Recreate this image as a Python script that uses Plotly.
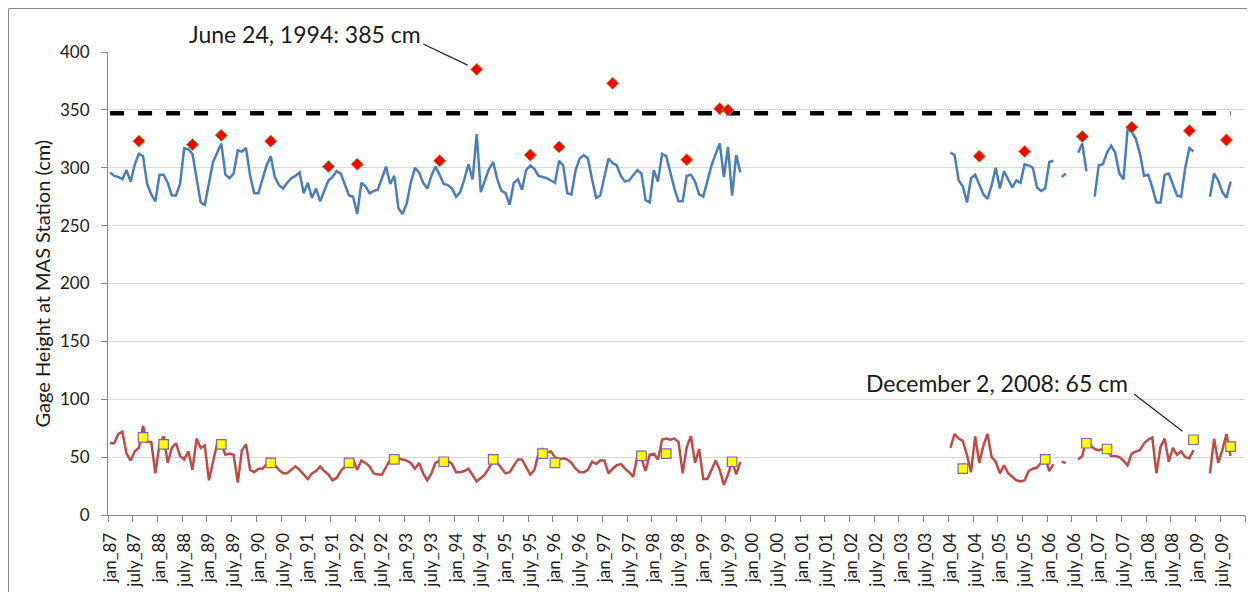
import plotly.graph_objects as go

# ---------------- data (monthly, Jan 1987 .. Dec 2009; index 0 = Jan 1987) ----------------
n_months = 276
years = list(range(1987, 2010))
tick_months = list(range(0, 276, 6))
tick_labels = []
for y in years:
    yy = str(y)[2:]
    tick_labels += ["jan_" + yy, "july_" + yy]

# monthly gage height, upper series (cm) Jan 1987 .. Oct 1999
blue_1987_1999 = [
    296, 293, 292, 290, 298, 288, 303, 312, 310, 286,
    277, 271, 294, 294, 287, 276, 276, 286, 317, 316,
    312, 290, 270, 268, 286, 305, 313, 321, 294, 291,
    295, 315, 314, 317, 293, 278, 278, 290, 302, 310,
    292, 285, 282, 287, 291, 293, 296, 278, 287, 274,
    282, 271, 280, 289, 292, 297, 295, 286, 276, 275,
    260, 287, 284, 278, 280, 281, 292, 301, 286, 293,
    265, 260, 269, 287, 300, 296, 287, 282, 293, 301,
    294, 286, 285, 282, 275, 279, 290, 303, 290, 329,
    279, 290, 299, 305, 290, 280, 278, 268, 287, 290,
    281, 298, 302, 299, 293, 292, 291, 289, 287, 306,
    302, 278, 277, 298, 308, 311, 308, 290, 274, 276,
    292, 308, 304, 302, 293, 288, 289, 294, 298, 295,
    272, 270, 298, 288, 312, 310, 296, 282, 271, 271,
    293, 294, 288, 277, 275, 288, 302, 312, 321, 292,
    318, 276, 311, 296,
]
# upper series Jan 2004 .. Sep 2009
blue_2004_2009 = [
    313, 311, 289, 284, 270, 291, 294, 286, 277, 273,
    285, 300, 282, 297, 290, 283, 289, 287, 303, 302,
    300, 283, 280, 282, 305, 306, None, 292, 295, None,
    None, 313, 321, 297, None, 275, 302, 303, 313, 319,
    313, 295, 290, 333, 331, 325, 312, 293, 294, 283,
    270, 270, 294, 295, 286, 276, 275, 300, 317, 314,
    None, None, None, 275, 295, 289, 279, 274, 288,
]
# monthly gage height, lower series (cm) Jan 1987 .. Oct 1999
red_1987_1999 = [
    62, 62, 70, 72, 53, 47, 55, 58, 77, 63,
    63, 36, 61, 68, 45, 58, 62, 51, 48, 55,
    39, 66, 58, 60, 30, 45, 62, 61, 52, 53,
    52, 28, 56, 61, 39, 37, 40, 40, 44, 45,
    43, 39, 36, 36, 39, 42, 39, 35, 31, 36,
    38, 42, 38, 35, 30, 32, 38, 42, 45, 48,
    39, 47, 45, 42, 36, 35, 35, 42, 48, 49,
    49, 48, 47, 45, 40, 45, 36, 30, 36, 45,
    47, 48, 47, 44, 37, 37, 38, 40, 35, 29,
    32, 35, 41, 47, 45, 40, 36, 37, 42, 48,
    48, 41, 35, 39, 53, 57, 54, 55, 50, 48,
    49, 48, 45, 40, 37, 37, 39, 46, 44, 47,
    47, 36, 40, 43, 44, 40, 37, 33, 51, 49,
    38, 52, 53, 48, 65, 66, 65, 66, 63, 36,
    59, 68, 45, 57, 31, 31, 39, 47, 39, 26,
    35, 46, 35, 46,
]
# lower series Jan 2004 .. Sep 2009
red_2004_2009 = [
    58, 70, 66, 64, 52, 37, 68, 45, 60, 70,
    50, 46, 36, 43, 36, 33, 30, 29, 30, 38,
    40, 41, 45, 49, 38, 44, None, 46, 45, None,
    None, 48, 51, 66, 60, 57, 56, 57, 57, 51,
    51, 50, 47, 43, 53, 55, 56, 62, 65, 67,
    36, 59, 66, 46, 58, 52, 55, 50, 49, 56,
    None, None, None, 36, 66, 45, 56, 70, 51,
]
start_early = 0
start_late = 204  # Jan 2004

# annual peak (diamonds) and low (squares) events
diamond_month = [7, 20, 27, 39, 53, 60, 80, 89, 102, 109, 122, 140, 148, 150,
                 211, 222, 236, 248, 262, 271]
diamond_value = [323, 320, 328, 323, 301, 303, 306, 385, 311, 318, 373, 307, 351, 350,
                 310, 314, 327, 335, 332, 324]
square_month = [8, 13, 27, 39, 58, 69, 81, 93, 105, 108, 129, 135, 151,
                207, 227, 237, 242, 263, 272]
square_value = [67, 61, 61, 45, 45, 48, 46, 48, 53, 45, 51, 53, 46,
                40, 48, 62, 57, 65, 59]

threshold_value = 347
threshold_months = [0, 272]

# ---------------- build full monthly series ----------------
def full_series(early, late):
    s = [None] * n_months
    for i, v in enumerate(early):
        s[start_early + i] = v
    for i, v in enumerate(late):
        s[start_late + i] = v
    return s

months = list(range(n_months))
blue = full_series(blue_1987_1999, blue_2004_2009)
red = full_series(red_1987_1999, red_2004_2009)

FONT = "Lato, 'Open Sans', sans-serif"
TXT = "#1a1a1a"

fig = go.Figure()
fig.add_trace(go.Scatter(x=months, y=blue, mode="lines", connectgaps=False,
                         line=dict(color="#4a7ebb", width=2.5), showlegend=False))
fig.add_trace(go.Scatter(x=months, y=red, mode="lines", connectgaps=False,
                         line=dict(color="#be4b48", width=2.5), showlegend=False))
fig.add_trace(go.Scatter(x=threshold_months, y=[threshold_value] * 2, mode="lines",
                         line=dict(color="#000000", width=4.5, dash="14px,14px"),
                         showlegend=False))
fig.add_trace(go.Scatter(x=diamond_month, y=diamond_value, mode="markers",
                         marker=dict(symbol="diamond", size=9.5, color="#ff0000",
                                     line=dict(color="#9bbb59", width=1)),
                         showlegend=False))
fig.add_trace(go.Scatter(x=square_month, y=square_value, mode="markers",
                         marker=dict(symbol="square", size=9.5, color="#ffff00",
                                     line=dict(color="#8064a2", width=1.2)),
                         showlegend=False))

# page has an 8px body margin: figure origin sits at page (8, 8)
W, H = 1247, 584
L, R, T, B = 100, 10, 44, 77
pw, ph = W - L - R, H - T - B

annotations = [
    dict(x=89, y=385, xref="x", yref="y", text="", showarrow=True, arrowhead=0,
         arrowwidth=1.2, arrowcolor="#222222", ax=-55, ay=-26, standoff=10),
    dict(x=89, y=385, xref="x", yref="y", text="June 24, 1994: 385 cm", showarrow=False,
         xshift=-172, yshift=35, font=dict(family=FONT, size=23, color=TXT)),
    dict(x=263, y=65, xref="x", yref="y", text="", showarrow=True, arrowhead=0,
         arrowwidth=1.2, arrowcolor="#222222", ax=-61, ay=-47, standoff=14),
    dict(x=263, y=65, xref="x", yref="y", text="December 2, 2008: 65 cm", showarrow=False,
         xshift=-197, yshift=57, font=dict(family=FONT, size=23, color=TXT)),
    dict(x=(33 - L) / pw, y=0.5, xref="paper", yref="paper", xanchor="center",
         yanchor="middle", text="Gage Height at MAS Station (cm)", showarrow=False,
         textangle=-90, font=dict(family=FONT, size=20, color=TXT)),
]

fig.update_layout(
    width=W, height=H, template="none",
    margin=dict(l=L, r=R, t=T, b=B, autoexpand=False),
    paper_bgcolor="white", plot_bgcolor="white",
    showlegend=False,
    annotations=annotations,
    shapes=[dict(type="rect", xref="paper", yref="paper",
                 x0=(0.5 - L) / pw, x1=(1242 - L) / pw,
                 y0=(H - B - 620) / ph, y1=(H - B - 0.5) / ph,
                 line=dict(color="#8a8a8a", width=1), fillcolor="rgba(0,0,0,0)",
                 layer="below")],
    xaxis=dict(range=[-0.5, n_months - 0.5], tickmode="array",
               tickvals=tick_months, ticktext=tick_labels, tickangle=-90,
               ticks="", showgrid=False, zeroline=False, showline=True,
               linecolor="#868686", linewidth=1, automargin=False,
               tickfont=dict(family=FONT, size=17, color=TXT),
               ticklabelstandoff=10,
               minor=dict(ticks="outside", ticklen=6, tickcolor="#868686",
                          tick0=-0.5, dtick=6, showgrid=False)),
    yaxis=dict(range=[0, 400], tickmode="linear", tick0=0, dtick=50,
               showgrid=True, gridcolor="#d9d9d9", gridwidth=1, zeroline=False,
               showline=True, linecolor="#868686", linewidth=1,
               ticks="outside", ticklen=6, tickcolor="#868686", automargin=False,
               tickfont=dict(family=FONT, size=17, color=TXT),
               ticklabelstandoff=8),
)

fig.write_html("out.html")
